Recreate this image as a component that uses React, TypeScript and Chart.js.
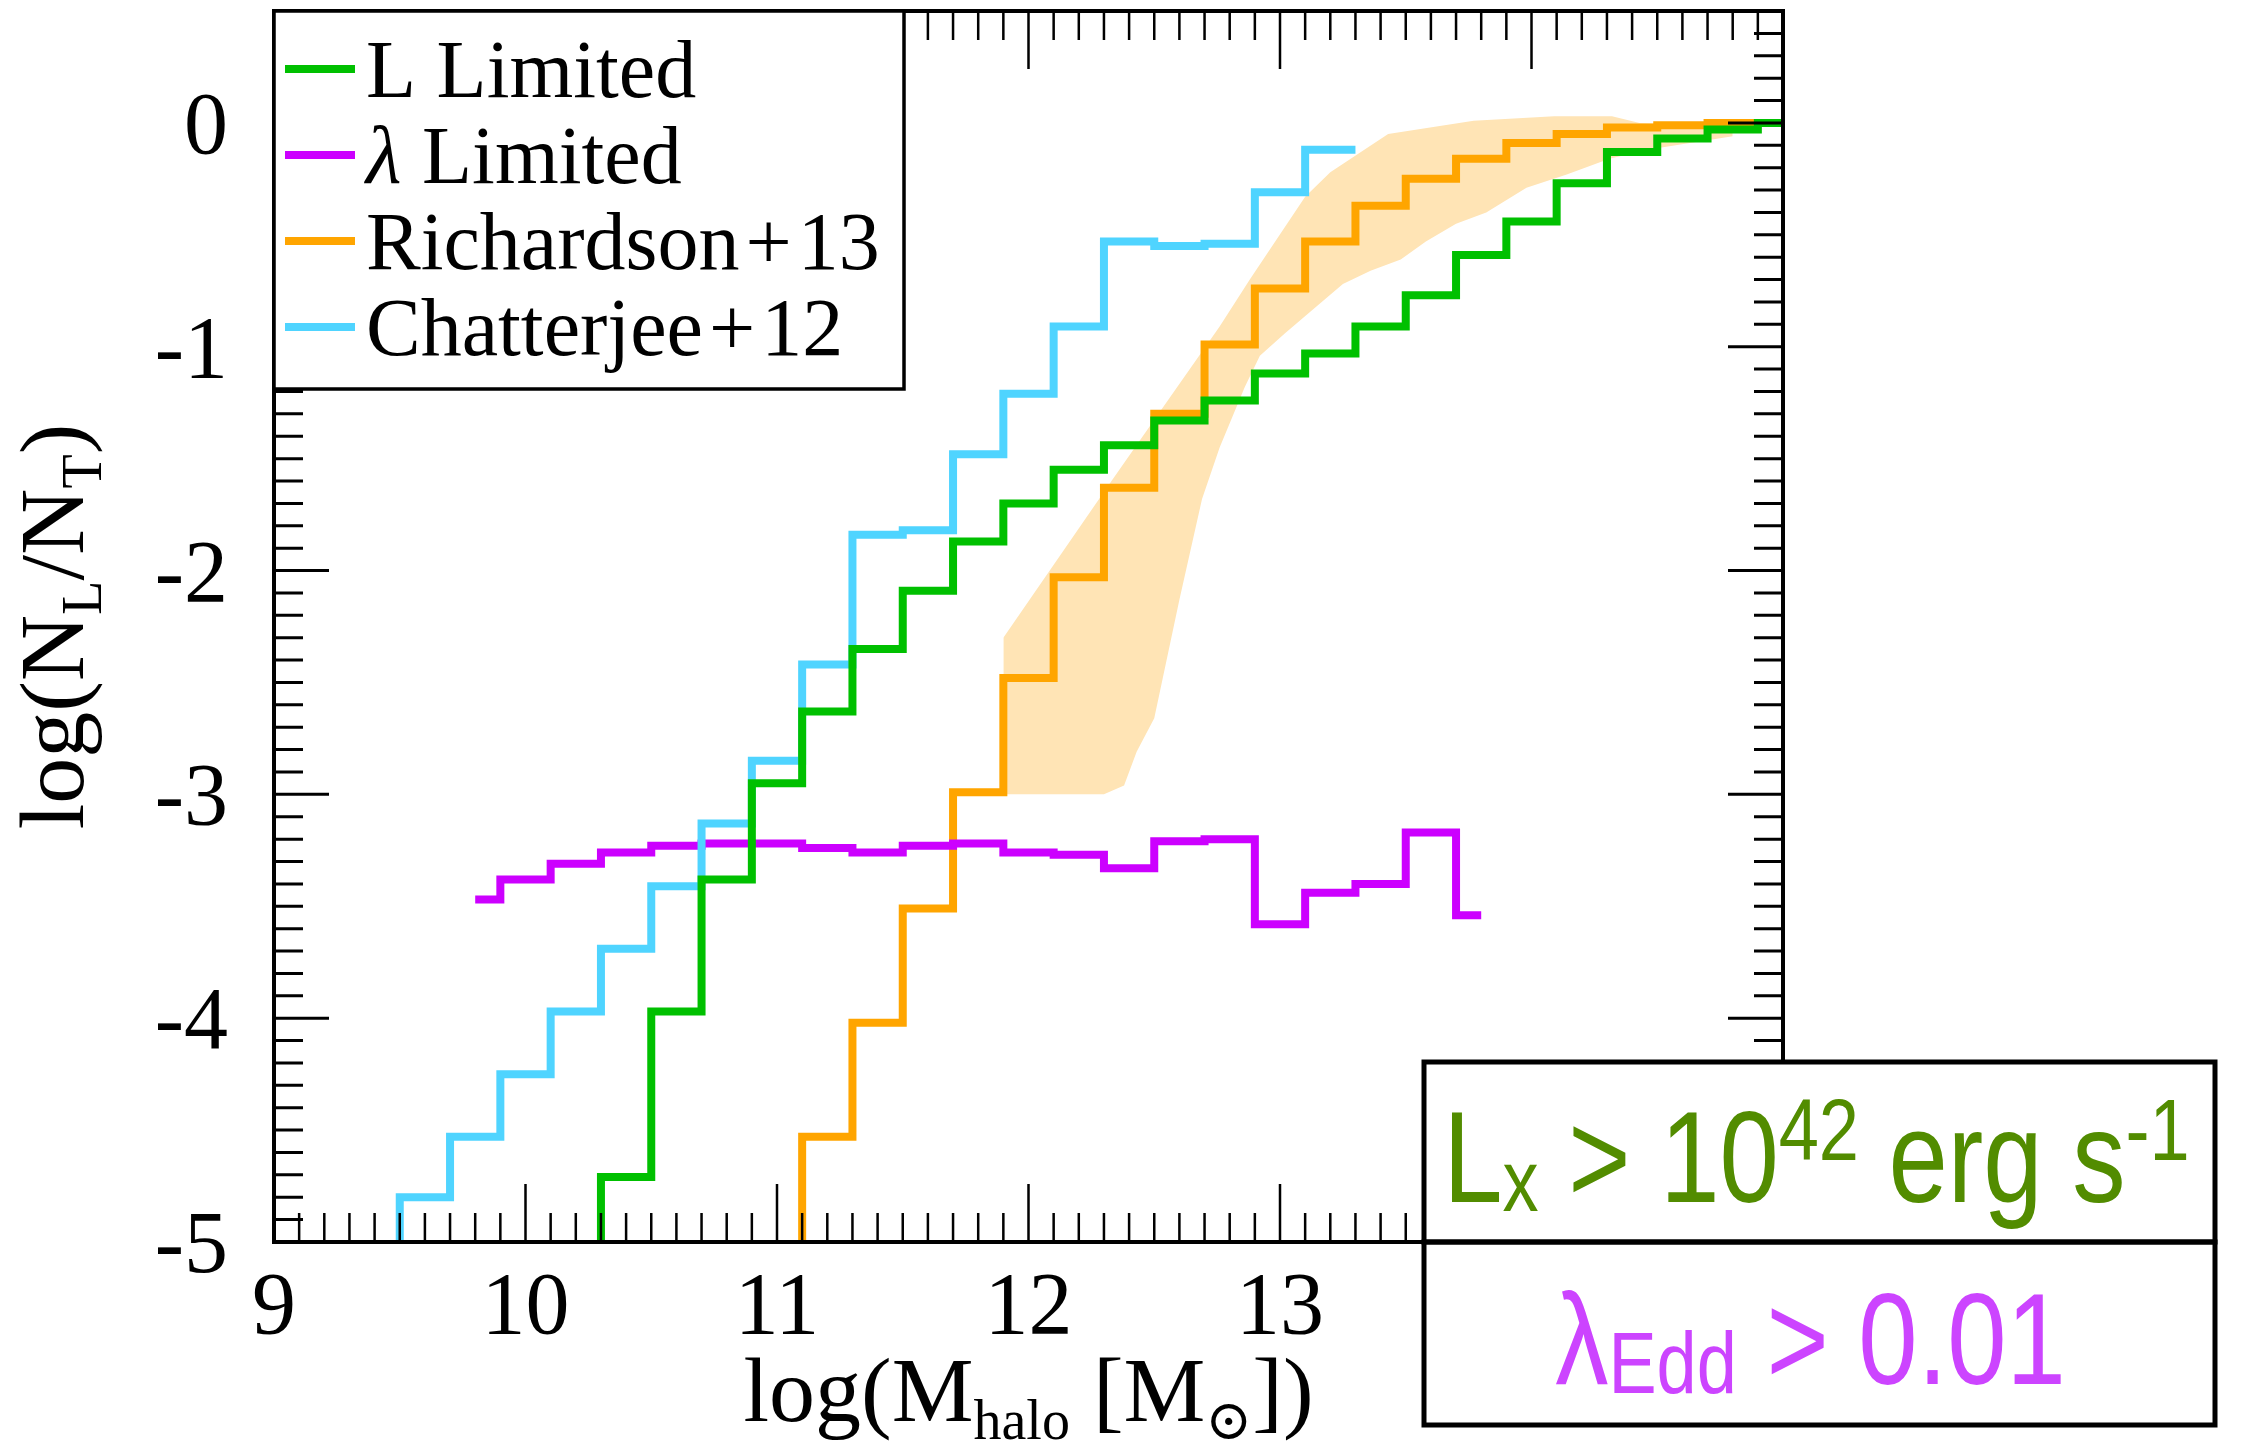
import React, { useEffect, useRef } from "react";
import { Chart, registerables } from "chart.js";

Chart.register(...registerables);

const W = 2252;
const H = 1449;
const PLOT = { left: 274, top: 11, right: 1783, bottom: 1242 };

const X_MIN = 9;
const X_MAX = 15;
const Y_MIN = -5;
const Y_MAX = 0.5;

const xTickValues = [9, 10, 11, 12, 13, 14, 15];
const xTickLabels = ["9", "10", "11", "12", "13", "14", "15"];
const yTickValues = [0, -1, -2, -3, -4, -5];
const yTickLabels = ["0", "-1", "-2", "-3", "-4", "-5"];

// L Limited: bin edges and values
const lLimitedEdges = [10.3, 10.5, 10.7, 10.9, 11.1, 11.3, 11.5, 11.7, 11.9, 12.1, 12.3, 12.5, 12.7, 12.9, 13.1, 13.3, 13.5, 13.7, 13.9, 14.1, 14.3, 14.5, 14.7, 14.9, 15.1];
const lLimitedValues = [-4.71, -3.97, -3.38, -2.95, -2.63, -2.35, -2.09, -1.87, -1.70, -1.55, -1.44, -1.33, -1.24, -1.12, -1.03, -0.91, -0.77, -0.59, -0.44, -0.27, -0.13, -0.07, -0.03, 0.0];

// λ Limited: bin centres and values
const lambdaCenters = [9.8, 10.0, 10.2, 10.4, 10.6, 10.8, 11.0, 11.2, 11.4, 11.6, 11.8, 12.0, 12.2, 12.4, 12.6, 12.8, 13.0, 13.2, 13.4, 13.6, 13.8];
const lambdaValues = [-3.47, -3.38, -3.31, -3.26, -3.23, -3.22, -3.22, -3.24, -3.26, -3.23, -3.22, -3.26, -3.27, -3.33, -3.21, -3.20, -3.58, -3.44, -3.40, -3.17, -3.54];

// Richardson+13
const richEdges = [11.1, 11.3, 11.5, 11.7, 11.9, 12.1, 12.3, 12.5, 12.7, 12.9, 13.1, 13.3, 13.5, 13.7, 13.9, 14.1, 14.3, 14.5, 14.7, 14.9, 15.1];
const richValues = [-4.53, -4.02, -3.51, -2.99, -2.48, -2.03, -1.63, -1.30, -0.99, -0.74, -0.53, -0.37, -0.25, -0.16, -0.09, -0.05, -0.02, -0.01, 0.0, 0.0];

// Chatterjee+12
const chatEdges = [9.5, 9.7, 9.9, 10.1, 10.3, 10.5, 10.7, 10.9, 11.1, 11.3, 11.5, 11.7, 11.9, 12.1, 12.3, 12.5, 12.7, 12.9, 13.1, 13.3];
const chatValues = [-4.80, -4.53, -4.25, -3.97, -3.69, -3.41, -3.13, -2.85, -2.42, -1.84, -1.82, -1.48, -1.21, -0.91, -0.53, -0.55, -0.54, -0.31, -0.12];

// Richardson+13 shaded range
const bandUpperX = [11.9, 12.33, 12.56, 12.76, 12.88, 13.1, 13.2, 13.43, 13.77, 14.09, 14.32, 14.43, 14.8];
const bandUpperY = [-2.30, -1.60, -1.23, -0.91, -0.70, -0.33, -0.22, -0.05, 0.01, 0.03, 0.03, 0.0, -0.01];
const bandLowerX = [11.9, 12.3, 12.38, 12.43, 12.5, 12.6, 12.69, 12.76, 12.86, 12.92, 13.02, 13.25, 13.36, 13.48, 13.58, 13.7, 13.82, 13.98, 14.14, 14.31, 14.46, 14.8];
const bandLowerY = [-3.0, -3.0, -2.96, -2.81, -2.66, -2.13, -1.68, -1.45, -1.18, -1.04, -0.94, -0.72, -0.66, -0.61, -0.53, -0.45, -0.40, -0.29, -0.23, -0.16, -0.12, -0.06];

const legendLabels = ["L Limited", "\u03bb Limited", "Richardson+13", "Chatterjee+12"];

const COLORS = {
  green: "#00c000",
  magenta: "#cc00ff",
  orange: "#ffa500",
  cyan: "#4fd4ff",
  band: "#ffe4b5",
  boxGreen: "#528c00",
  boxMagenta: "#cc44ff",
};

const SERIF = "'Liberation Serif', 'DejaVu Serif', serif";
const SANS = "'Liberation Sans', Arial, sans-serif";

function histPoints(edges: number[], values: number[]) {
  const pts = [{ x: edges[0], y: Y_MIN }];
  values.forEach((v, i) => pts.push({ x: edges[i], y: v }));
  pts.push({ x: edges[edges.length - 1], y: values[values.length - 1] });
  return pts;
}

function zipPoints(xs: number[], ys: number[]) {
  return xs.map((x, i) => ({ x, y: ys[i] }));
}

type Part = { t: string; size: number; dy?: number; italic?: boolean; gap?: number };

function drawRich(ctx: CanvasRenderingContext2D, parts: Part[], family: string, x: number, baseline: number, hs: number, color: string, align: "center" | "left" = "center") {
  const widths = parts.map((p) => {
    ctx.font = `${p.italic ? "italic " : ""}${p.size}px ${family}`;
    return ctx.measureText(p.t).width + (p.gap || 0) * 2;
  });
  const total = widths.reduce((a, b) => a + b, 0);
  ctx.save();
  ctx.translate(x, baseline);
  ctx.scale(hs, 1);
  ctx.fillStyle = color;
  ctx.textAlign = "left";
  ctx.textBaseline = "alphabetic";
  let xx = align === "center" ? -total / 2 : 0;
  parts.forEach((p, i) => {
    ctx.font = `${p.italic ? "italic " : ""}${p.size}px ${family}`;
    ctx.fillText(p.t, xx + (p.gap || 0), p.dy || 0);
    xx += widths[i];
  });
  ctx.restore();
}

function legendParts(label: string, size: number): Part[] {
  const parts: Part[] = [];
  let rest = label;
  if (rest.startsWith("\u03bb")) {
    parts.push({ t: "\u03bb", size, italic: true });
    rest = rest.slice(1);
  }
  const pieces = rest.split("+");
  pieces.forEach((p, i) => {
    if (i > 0) parts.push({ t: "+", size, gap: 6 });
    parts.push({ t: p, size });
  });
  return parts;
}

const decorPlugin = {
  id: "decor",
  afterDraw(chart: any) {
    const ctx: CanvasRenderingContext2D = chart.ctx;
    const a = chart.chartArea;
    const xs = chart.scales.x;
    const ys = chart.scales.y;
    ctx.save();
    ctx.strokeStyle = "#000";
    ctx.lineCap = "butt";

    // x ticks (bottom & top)
    ctx.lineWidth = 2.5;
    const nX = Math.round((X_MAX - X_MIN) * 10);
    for (let i = 0; i <= nX; i++) {
      const v = X_MIN + i / 10;
      const px = xs.getPixelForValue(v);
      const len = i % 10 === 0 ? 58 : 29;
      ctx.beginPath();
      ctx.moveTo(px, a.bottom);
      ctx.lineTo(px, a.bottom - len);
      ctx.moveTo(px, a.top);
      ctx.lineTo(px, a.top + len);
      ctx.stroke();
    }
    // y ticks (left & right)
    ctx.lineWidth = 3;
    const nY = Math.round((Y_MAX - Y_MIN) * 10);
    for (let i = 0; i <= nY; i++) {
      const v = Y_MIN + i / 10;
      const py = ys.getPixelForValue(v);
      const len = i % 10 === 0 ? 55 : 29;
      ctx.beginPath();
      ctx.moveTo(a.left, py);
      ctx.lineTo(a.left + len, py);
      ctx.moveTo(a.right, py);
      ctx.lineTo(a.right - len, py);
      ctx.stroke();
    }
    // frame
    ctx.lineWidth = 4;
    ctx.strokeRect(a.left, a.top, a.right - a.left, a.bottom - a.top);

    // tick labels
    ctx.fillStyle = "#000";
    ctx.font = `88px ${SERIF}`;
    ctx.textAlign = "center";
    ctx.textBaseline = "alphabetic";
    xTickValues.forEach((v, i) => {
      ctx.fillText(xTickLabels[i], xs.getPixelForValue(v), a.bottom + 91);
    });
    ctx.textAlign = "right";
    yTickValues.forEach((v, i) => {
      ctx.fillText(yTickLabels[i], a.left - 46, ys.getPixelForValue(v) + 30);
    });

    // axis titles
    const cx = (a.left + a.right) / 2;
    drawRich(ctx, [
      { t: "log(M", size: 92 },
      { t: "halo", size: 56, dy: 18 },
      { t: " [M", size: 92 },
      { t: "\u2299", size: 56, dy: 18 },
      { t: "])", size: 92 },
    ], SERIF, cx, 1421, 1, "#000");
    ctx.save();
    ctx.translate(83, (a.top + a.bottom) / 2);
    ctx.rotate(-Math.PI / 2);
    drawRich(ctx, [
      { t: "log(N", size: 92 },
      { t: "L", size: 56, dy: 18 },
      { t: "/N", size: 92 },
      { t: "T", size: 56, dy: 18 },
      { t: ")", size: 92 },
    ], SERIF, 0, 0, 1, "#000");
    ctx.restore();

    // legend box
    const lx = a.left, ly = a.top, lw = 630, lh = 378;
    ctx.fillStyle = "#fff";
    ctx.fillRect(lx, ly, lw, lh);
    ctx.lineWidth = 3.5;
    ctx.strokeStyle = "#000";
    ctx.strokeRect(lx, ly, lw, lh);
    legendLabels.forEach((label, k) => {
      const d = chart.data.datasets.find((ds: any) => ds.label === label);
      if (!d) return;
      const rowY = ly + 58 + k * 86;
      ctx.strokeStyle = d.borderColor;
      ctx.lineWidth = 8;
      ctx.beginPath();
      ctx.moveTo(lx + 11, rowY);
      ctx.lineTo(lx + 81, rowY);
      ctx.stroke();
      drawRich(ctx, legendParts(label, 82), SERIF, lx + 92, rowY + 28, 1, "#000", "left");
    });

    // condition boxes
    const bx = 1424, bw = 791;
    const b1t = 1062, b1b = 1242, b2b = 1425;
    ctx.fillStyle = "#fff";
    ctx.fillRect(bx, b1t, bw, b2b - b1t);
    ctx.strokeStyle = "#000";
    ctx.lineWidth = 5;
    ctx.strokeRect(bx, b1t, bw, b1b - b1t);
    ctx.strokeRect(bx, b1b, bw, b2b - b1b);
    const bcx = bx + bw / 2;
    drawRich(ctx, [
      { t: "L", size: 130 },
      { t: "x", size: 88, dy: 9 },
      { t: " > 10", size: 130 },
      { t: "42", size: 88, dy: -42 },
      { t: " erg s", size: 130 },
      { t: "-1", size: 88, dy: -42 },
    ], SANS, bcx - 3, 1202, 0.82, COLORS.boxGreen);
    drawRich(ctx, [
      { t: "\u03bb", size: 130 },
      { t: "Edd", size: 88, dy: 9 },
      { t: " > 0.01", size: 130 },
    ], SANS, bcx - 9, 1384, 0.82, COLORS.boxMagenta);

    ctx.restore();
  },
};

export default function App() {
  const ref = useRef<HTMLCanvasElement | null>(null);
  useEffect(() => {
    if (!ref.current) return;
    const common = { pointRadius: 0, borderWidth: 8, fill: false, clip: 0, borderJoinStyle: "miter" as const };
    const chart = new Chart(ref.current, {
      type: "line",
      data: {
        datasets: [
          { ...common, label: legendLabels[0], data: histPoints(lLimitedEdges, lLimitedValues), borderColor: COLORS.green, stepped: "before" } as any,
          { ...common, label: legendLabels[3], data: histPoints(chatEdges, chatValues), borderColor: COLORS.cyan, stepped: "before" } as any,
          { ...common, label: legendLabels[1], data: zipPoints(lambdaCenters, lambdaValues), borderColor: COLORS.magenta, stepped: "middle" } as any,
          { ...common, label: legendLabels[2], data: histPoints(richEdges, richValues), borderColor: COLORS.orange, stepped: "before" } as any,
          { label: "band upper", data: zipPoints(bandUpperX, bandUpperY), borderWidth: 0, pointRadius: 0, fill: false, borderColor: "rgba(0,0,0,0)" } as any,
          { label: "band lower", data: zipPoints(bandLowerX, bandLowerY), borderWidth: 0, pointRadius: 0, fill: "-1", backgroundColor: COLORS.band, borderColor: "rgba(0,0,0,0)" } as any,
        ],
      },
      options: {
        animation: false,
        responsive: false,
        devicePixelRatio: 1,
        layout: { padding: { left: PLOT.left, top: PLOT.top, right: W - PLOT.right, bottom: H - PLOT.bottom } },
        scales: {
          x: { type: "linear", min: X_MIN, max: X_MAX, display: false },
          y: { type: "linear", min: Y_MIN, max: Y_MAX, display: false },
        },
        plugins: { legend: { display: false }, tooltip: { enabled: false } },
      },
      plugins: [decorPlugin],
    });
    return () => chart.destroy();
  }, []);
  return (
    <div style={{ position: "absolute", left: 0, top: 0, width: W, height: H, background: "#fff" }}>
      <canvas ref={ref} width={W} height={H} style={{ display: "block", width: W, height: H }} />
    </div>
  );
}
